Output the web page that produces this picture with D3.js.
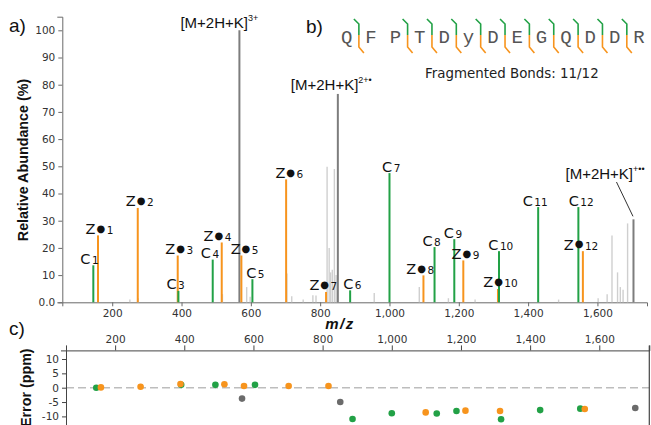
<!DOCTYPE html>
<html><head><meta charset="utf-8">
<script src="https://cdn.jsdelivr.net/npm/d3@7"></script>
<style>
html,body{margin:0;padding:0;background:#fff;}
svg{display:block;}
</style></head>
<body>
<svg id="chart" width="651" height="425"></svg>
<script>
// ---------------- data ----------------
const mzTicks = [200, 400, 600, 800, 1000, 1200, 1400, 1600];
const abundTicks = [0, 10, 20, 30, 40, 50, 60, 70, 80, 90, 100];
const errorTicks = [-10, -5, 0, 5, 10];

const residues = ["Q", "F", "P", "T", "D", "y", "D", "E", "G", "Q", "D", "D", "R"];

const cNumbers = [1, 3, 4, 5, 6, 7, 8, 9, 10, 11, 12];
const cMz      = [145.5, 391, 490, 604.5, 886.5, 1000, 1130, 1187, 1316, 1429, 1545];
const cAbund   = [13.6, 4.2, 15.7, 8.5, 4.4, 47.5, 20.3, 23.2, 18.8, 35.0, 35.0];
const cError   = [0.0, 1.0, 1.0, 1.0, -10.9, -8.9, -9.0, -8.1, -11.0, -7.8, -7.3];

const zNumbers = [1, 2, 3, 4, 5, 6, 7, 8, 9, 10, 12];
const zMz      = [159, 273.7, 389, 516, 572.7, 701.8, 817, 1098, 1213, 1313, 1558];
const zAbund   = [24.6, 34.7, 17.2, 22.0, 17.2, 45.2, 3.8, 9.9, 15.4, 4.9, 18.8];
const zError   = [0.1, 0.35, 1.3, 1.2, 0.6, 0.6, 0.6, -8.6, -8.0, -8.1, -7.4];

const precCharge = ["3+", "2+\u2022", "+\u2022\u2022"];
const precMz     = [567, 851, 1704];
const precAbund  = [100, 76.6, 30.5];
const precError  = [-3.8, -5.0, -7.1];

const otherMz    = [251, 275, 518, 588, 598, 704, 718, 751, 779, 788, 820, 826, 830, 835, 841, 846, 956, 1086, 1170, 1247, 1488, 1602, 1628, 1642, 1658, 1666, 1674, 1687];
const otherAbund = [1.0, 1.5, 3.0, 5.6, 2.0, 10.6, 2.2, 1.0, 2.6, 2.5, 49.8, 20.0, 11.0, 12.0, 49.0, 10.0, 3.4, 5.6, 1.5, 1.0, 1.0, 1.5, 3.0, 24.6, 11.0, 5.6, 4.6, 29.0];

// ---------------- layout / styles ----------------
const GREEN = "#22a146", ORANGE = "#f7941d", DARK = "#7d7d7d", LIGHT = "#cfcfcf";
const TICKFONT = "DejaVu Sans";
// horizontal label nudges (px), in the same order as the ion arrays
const cLabelNudge = [-3.8, -2.8, -2.7, 3, 2.2, 1.7, -3, -1.3, 1.8, -3, 2.8];
const zLabelNudge = [1.5, 2, 1.5, -4.2, 3.2, 3.2, -2.7, -3.3, 2.2, 2.5, -1.9];

const svg = d3.select("#chart");

// ---------------- panel a ----------------
const xA = d3.scaleLinear().domain([56, 1743]).range([62.3, 647]);
const yA = d3.scaleLinear().domain([0, 105]).range([302.3, 16.7]);

const gA = svg.append("g");
const axA = gA.append("g").attr("transform", `translate(0,${yA(0)})`)
  .call(d3.axisBottom(xA).tickValues(mzTicks).tickSize(4).tickSizeOuter(4).tickPadding(3).tickFormat(d3.format(",")));
const ayA = gA.append("g").attr("transform", `translate(${xA.range()[0]},0)`)
  .call(d3.axisLeft(yA).tickValues(abundTicks).tickSize(4).tickSizeOuter(5).tickPadding(3)
    .tickFormat(d => d === 0 ? "0.0" : d));
[axA, ayA].forEach(a => {
  a.selectAll("path,line").attr("stroke", "#6a6a6a");
  a.selectAll("text").attr("font-family", TICKFONT).attr("font-size", 10.5).attr("fill", "#333");
});

// other peaks
gA.selectAll("line.other").data(otherMz).join("line").attr("class", "other")
  .attr("x1", d => xA(d)).attr("x2", d => xA(d))
  .attr("y1", yA(0)).attr("y2", (d, i) => yA(otherAbund[i]))
  .attr("stroke", LIGHT).attr("stroke-width", 1.4);

// precursors
gA.selectAll("line.prec").data(precMz).join("line").attr("class", "prec")
  .attr("x1", d => xA(d)).attr("x2", d => xA(d))
  .attr("y1", yA(0)).attr("y2", (d, i) => yA(precAbund[i]))
  .attr("stroke", DARK).attr("stroke-width", 2);

// z ions then c ions
gA.selectAll("line.z").data(zMz).join("line").attr("class", "z")
  .attr("x1", d => xA(d)).attr("x2", d => xA(d))
  .attr("y1", yA(0)).attr("y2", (d, i) => yA(zAbund[i]))
  .attr("stroke", ORANGE).attr("stroke-width", 2);
gA.selectAll("line.c").data(cMz).join("line").attr("class", "c")
  .attr("x1", d => xA(d)).attr("x2", d => xA(d))
  .attr("y1", yA(0)).attr("y2", (d, i) => yA(cAbund[i]))
  .attr("stroke", GREEN).attr("stroke-width", 2);

// ion labels
function ionLabel(letter, num, mz, ab, radical, nudge) {
  const t = gA.append("text")
    .attr("x", xA(mz) + nudge).attr("y", yA(ab) - 1.5)
    .attr("text-anchor", "middle").attr("font-family", "DejaVu Sans").attr("fill", "#111");
  t.append("tspan").attr("font-size", 14.5).text(letter);
  if (radical) {
    t.append("tspan").attr("font-size", 10).attr("dx", 1).attr("dy", -2.2).text("\u25CF");
    t.append("tspan").attr("font-size", 10.5).attr("dx", 1.5).attr("dy", 2.2).text(num);
  } else {
    t.append("tspan").attr("font-size", 10.5).attr("dx", 1.5).text(num);
  }
}
cNumbers.forEach((n, i) => ionLabel("C", n, cMz[i], cAbund[i], false, cLabelNudge[i]));
zNumbers.forEach((n, i) => ionLabel("Z", n, zMz[i], zAbund[i], true, zLabelNudge[i]));

// precursor labels
const precDx = [-59, -47, -68];
const precDy = [-2, -4, null];
precMz.forEach((mz, i) => {
  const px = xA(mz), py = yA(precAbund[i]);
  const ly = i === 2 ? 179 : py + precDy[i];
  const t = gA.append("text").attr("x", px + precDx[i]).attr("y", ly)
    .attr("font-family", "Liberation Sans").attr("fill", "#111");
  t.append("tspan").attr("font-size", 15).text("[M+2H+K]");
  t.append("tspan").attr("font-size", 9).attr("dy", -7).text(precCharge[i]);
  if (i === 2) {
    gA.append("line").attr("x1", px - 17).attr("y1", 182).attr("x2", px - 0.5).attr("y2", py - 3)
      .attr("stroke", "#333").attr("stroke-width", 1);
  }
});

// axis title
svg.append("text").attr("transform", "translate(28,160) rotate(-90)")
  .attr("text-anchor", "middle").attr("font-family", "Liberation Sans").attr("font-weight", "bold")
  .attr("font-size", 14.3).attr("fill", "#111").text("Relative Abundance (%)");
svg.append("text").attr("x", 340).attr("y", 329).attr("text-anchor", "middle")
  .attr("font-family", "Liberation Sans").attr("font-weight", "bold").attr("font-style", "italic")
  .attr("font-size", 15).attr("letter-spacing", 1.5).attr("fill", "#111").text("m/z");

// panel letters
[["a)", 9, 32], ["b)", 306, 33], ["c)", 9, 335]].forEach(([s, x, y]) =>
  svg.append("text").attr("x", x).attr("y", y).attr("font-family", "Liberation Sans")
    .attr("font-size", 19).attr("fill", "#111").text(s));

// ---------------- panel b: sequence ----------------
const xS = d3.scalePoint().domain(d3.range(residues.length)).range([346.7, 639]);
svg.selectAll("text.res").data(residues).join("text").attr("class", "res")
  .attr("x", (d, i) => xS(i)).attr("y", 42.5).attr("text-anchor", "middle")
  .attr("font-family", "Liberation Mono").attr("font-size", 19).attr("fill", "#555").text(d => d);

const step = xS.step();
const n = residues.length;
// c ion k -> bond after residue k ; z ion k -> bond after residue n-k
cNumbers.forEach(k => {
  const bx = xS(k - 1) + step / 2;
  svg.append("path").attr("d", `M${bx - 5},19 L${bx},24 L${bx},35`)
    .attr("fill", "none").attr("stroke", GREEN).attr("stroke-width", 1.6);
});
zNumbers.forEach(k => {
  const bx = xS(n - k - 1) + step / 2;
  svg.append("path").attr("d", `M${bx},35 L${bx},47 L${bx + 5},53`)
    .attr("fill", "none").attr("stroke", ORANGE).attr("stroke-width", 1.6);
});
svg.append("text").attr("x", 425).attr("y", 78).attr("font-family", "DejaVu Sans")
  .attr("font-size", 13.4).attr("fill", "#222").text("Fragmented Bonds: 11/12");

// ---------------- panel c ----------------
const xC = d3.scaleLinear().domain([58, 1744.6]).range([66, 649.3]);
const yC = d3.scaleLinear().domain([13, -13]).range([350.4, 425]);
const gC = svg.append("g");

gC.append("line").attr("x1", xC.range()[0]).attr("x2", xC.range()[1])
  .attr("y1", yC(0)).attr("y2", yC(0))
  .attr("stroke", "#bdbdbd").attr("stroke-width", 1.5).attr("stroke-dasharray", "8,4");

const axC = gC.append("g").attr("transform", `translate(0,${yC(13)})`)
  .call(d3.axisTop(xC).tickValues(mzTicks).tickSize(5).tickSizeOuter(5).tickPadding(2).tickFormat(d3.format(",")));
const ayC = gC.append("g").attr("transform", `translate(${xC.range()[0]},0)`)
  .call(d3.axisLeft(yC).tickValues(errorTicks).tickSize(4).tickSizeOuter(5).tickPadding(3).tickFormat(d => String(d)));
[axC, ayC].forEach(a => {
  a.selectAll("path,line").attr("stroke", "#444");
  a.selectAll("text").attr("font-family", TICKFONT).attr("font-size", 10.5).attr("fill", "#333");
});
gC.append("line").attr("x1", xC.range()[1]).attr("x2", xC.range()[1])
  .attr("y1", yC(13) - 5).attr("y2", 425).attr("stroke", "#444").attr("stroke-width", 1.2);

gC.selectAll("circle.p").data(precMz).join("circle").attr("class", "p")
  .attr("cx", d => xC(d)).attr("cy", (d, i) => yC(precError[i])).attr("r", 3.3).attr("fill", "#6b6b6b");
gC.selectAll("circle.c").data(cMz).join("circle").attr("class", "c")
  .attr("cx", d => xC(d)).attr("cy", (d, i) => yC(cError[i])).attr("r", 3.3).attr("fill", GREEN);
gC.selectAll("circle.z").data(zMz).join("circle").attr("class", "z")
  .attr("cx", d => xC(d)).attr("cy", (d, i) => yC(zError[i])).attr("r", 3.3).attr("fill", ORANGE);

svg.append("text").attr("transform", `translate(31,${yC(0)}) rotate(-90)`)
  .attr("text-anchor", "middle").attr("font-family", "Liberation Sans").attr("font-weight", "bold")
  .attr("font-size", 14.3).attr("fill", "#111").text("Error (ppm)");
</script>
</body></html>
